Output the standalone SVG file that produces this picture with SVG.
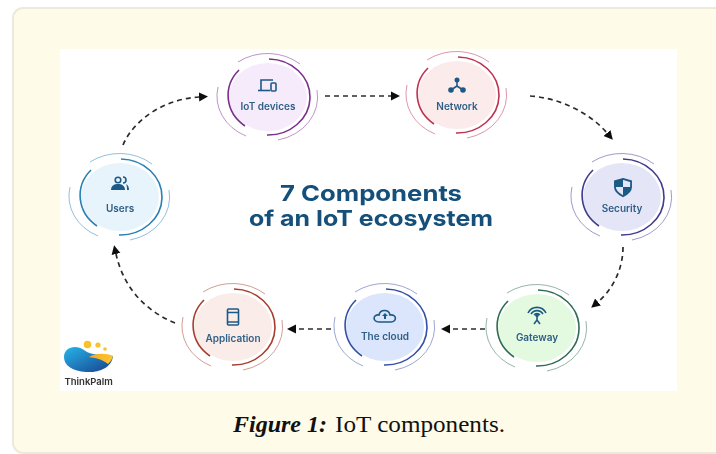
<svg xmlns="http://www.w3.org/2000/svg" width="716" height="454" viewBox="0 0 716 454">
  <style>
    .lbl{font-family:"Inter","Liberation Sans",sans-serif;font-weight:600;font-size:10px;fill:#2f5f86;text-anchor:middle}
    .ttl{font-family:"Inter","Liberation Sans",sans-serif;font-weight:700;font-size:22px;fill:#12507a}
    .cap{font-family:"Liberation Serif",serif;font-size:24px;fill:#111}
    .ic{fill:none;stroke:#1f5a85;stroke-width:1.6}
    .icf{fill:#1f5a85}
    .in{fill:none;stroke:currentColor;stroke-width:1.6}
    .out{fill:none;stroke:currentColor;stroke-width:1;opacity:.5}
    .con{fill:none;stroke:#2b2b2b;stroke-width:1.7;stroke-dasharray:5 4;marker-end:url(#arr)}
  </style>
  <defs>
    <marker id="arr" markerUnits="userSpaceOnUse" markerWidth="10" markerHeight="10" refX="0" refY="5" orient="auto">
      <path d="M0,0.5 L9,5 L0,9.5 Z" fill="#111"/>
    </marker>
    <g id="rings">
      <path class="in" d="M1,-38 A42,38 0 0 1 -1,38"/>
      <path class="in" d="M-23,29 A42,38 0 0 1 -29,-27"/>
      <path class="out" d="M-30,-35 A50,44 0 0 1 32,-33"/>
      <path class="out" d="M49,-7 A50,44 0 0 1 10,43"/>
      <path class="out" d="M-50,-10 A50,44 0 0 0 -22,39"/>
    </g>
    <linearGradient id="lgB" x1="0" y1="0" x2="1" y2="1"><stop offset="0" stop-color="#22b6ea"/><stop offset="1" stop-color="#1d3f8c"/></linearGradient>
    <linearGradient id="lgY" x1="0" y1="0" x2="1" y2="0"><stop offset="0" stop-color="#f9a91d"/><stop offset="1" stop-color="#fbc531"/></linearGradient>
    <filter id="soft" x="-5%" y="-5%" width="110%" height="110%"><feGaussianBlur stdDeviation="0.35"/></filter>
  </defs>

  <rect width="716" height="454" fill="#ffffff"/>
  <rect x="13" y="8" width="720" height="445" rx="10" fill="#fffbe9" stroke="#ece9dd" stroke-width="2"/>
  <rect x="60" y="49" width="617" height="342" fill="#ffffff"/>

  <g filter="url(#soft)">
    <g id="connectors">
      <path class="con" d="M123,145 C134,119 165,99 199,97"/>
      <path class="con" d="M325,96 L391,96"/>
      <path class="con" d="M530,96 C560,98 590,113 607,133"/>
      <path class="con" d="M623,247 C623,270 612,290 598,302"/>
      <path class="con" d="M485,329 L450,329"/>
      <path class="con" d="M331,329 L296,329"/>
      <path class="con" d="M175,323 C148,312 124,290 116,254"/>
    </g>

    <g id="node-users" style="color:#2a7fb5" transform="translate(120,197)">
      <ellipse rx="39" ry="34" fill="#e8f4fc"/>
      <use href="#rings"/>
      <g transform="translate(0,-12)">
        <circle cx="-2" cy="-5" r="2.8" class="ic"/>
        <path class="icf" d="M-9,5 C-9,0 -5,-1 -2,-1 C1,-1 5,0 5,5 Z"/>
        <path class="ic" d="M3,-8 A3,3 0 0 1 3,-2"/>
        <path class="icf" d="M6,-1 C8,0 9,2 9,5 L7,5 C7,3 7,1 6,-1 Z"/>
      </g>
      <text class="lbl" y="14.500">Users</text>
    </g>

    <g id="node-iot-devices" style="color:#7b2d8e" transform="translate(268,97)">
      <ellipse rx="39" ry="34" fill="#f6ebfa"/>
      <use href="#rings"/>
      <g transform="translate(0,-11)">
        <path class="ic" d="M-7,4 L-7,-6 L5,-6"/>
        <path class="ic" d="M-10,4.500 L2,4.500"/>
        <rect class="ic" x="3" y="-3" width="5" height="8" rx="1"/>
      </g>
      <text class="lbl" y="12.500">IoT devices</text>
    </g>

    <g id="node-network" style="color:#c0304f" transform="translate(457,95)">
      <ellipse rx="39" ry="34" fill="#fbebeb"/>
      <use href="#rings"/>
      <g transform="translate(0,-9)">
        <circle class="icf" cx="0" cy="-6" r="2.500"/>
        <circle class="icf" cx="-6" cy="4" r="2.800"/>
        <circle class="icf" cx="6" cy="4" r="2.800"/>
        <path class="ic" d="M0,-6 L0,0 L-6,4 M0,0 L6,4"/>
      </g>
      <text class="lbl" y="15">Network</text>
    </g>

    <g id="node-security" style="color:#3f3a8c" transform="translate(622,197)">
      <ellipse rx="39" ry="34" fill="#e4e6f8"/>
      <use href="#rings"/>
      <g transform="translate(1,-10) scale(1.15)">
        <path class="ic" d="M0,-7 L7,-5 L7,0 C7,4 4,6 0,8 C-4,6 -7,4 -7,0 L-7,-5 Z"/>
        <path class="icf" d="M0,-7 L-7,-5 L-7,0 L0,0 Z M0,0 L7,0 C7,4 4,6 0,8 Z"/>
      </g>
      <text class="lbl" y="14.500">Security</text>
    </g>

    <g id="node-gateway" style="color:#2f6b55" transform="translate(537,328)">
      <ellipse rx="39" ry="34" fill="#e4fae0"/>
      <use href="#rings"/>
      <g transform="translate(0,-13)">
        <path class="ic" d="M-9,-2 A10,10 0 0 1 9,-2 M-6,-1 A7,7 0 0 1 6,-1 M-3,0 A4,4 0 0 1 3,0" stroke-width="1.200"/>
        <circle class="icf" cx="0" cy="0" r="2"/>
        <path class="ic" d="M0,1 L0,5 L-3,9 M0,5 L3,9"/>
      </g>
      <text class="lbl" y="12.500">Gateway</text>
    </g>

    <g id="node-the-cloud" style="color:#3550a8" transform="translate(385,327)">
      <ellipse rx="39" ry="34" fill="#dbe5fb"/>
      <use href="#rings"/>
      <g transform="translate(0,-11)">
        <path class="ic" d="M-6,6 C-13,6 -12,-2 -6,-1 C-5,-7 4,-7 5,-1 C12,-2 12,6 6,6 Z"/>
        <path class="icf" d="M0,-3 L3,0 L1,0 L1,3 L-1,3 L-1,0 L-3,0 Z"/>
      </g>
      <text class="lbl" y="13">The cloud</text>
    </g>

    <g id="node-application" style="color:#a63e2e" transform="translate(233,327)">
      <ellipse rx="39" ry="34" fill="#faece8"/>
      <use href="#rings"/>
      <g transform="translate(0,-10)">
        <rect class="ic" x="-5.500" y="-8" width="11" height="16" rx="1"/>
        <path class="ic" d="M-5.500,-4.500 L5.500,-4.500 M-5.500,5 L5.500,5"/>
      </g>
      <text class="lbl" y="14.500">Application</text>
    </g>

    <text class="ttl" x="280" y="200.500" textLength="182" lengthAdjust="spacingAndGlyphs">7 Components</text>
    <text class="ttl" x="249" y="225.500" textLength="244" lengthAdjust="spacingAndGlyphs">of an IoT ecosystem</text>

    <g id="logo">
      <circle cx="87.500" cy="344.500" r="3.800" fill="#f7c325"/>
      <circle cx="98" cy="345" r="2.600" fill="#f7c325"/>
      <circle cx="105" cy="349" r="1.800" fill="#f7c325"/>
      <path d="M64,357 C64,347 76,344 84,350 C92,356 100,354 113,356 C112,368 98,373 86,372 C73,371 64,366 64,357 Z" fill="url(#lgB)"/>
      <path d="M89,357 C95,353 107,353 113,356 C112,360 110,362 108,364 C102,359 95,358 89,357 Z" fill="url(#lgY)"/>
      <text x="64.500" y="385" font-family="Inter,'Liberation Sans',sans-serif" font-weight="600" font-size="9.500" fill="#333">ThinkPalm</text>
    </g>
  </g>

  <text class="cap" x="233" y="432" font-weight="700" font-style="italic" textLength="94" lengthAdjust="spacingAndGlyphs">Figure 1:</text>
  <text class="cap" x="335" y="432" textLength="170" lengthAdjust="spacingAndGlyphs">IoT components.</text>
</svg>
